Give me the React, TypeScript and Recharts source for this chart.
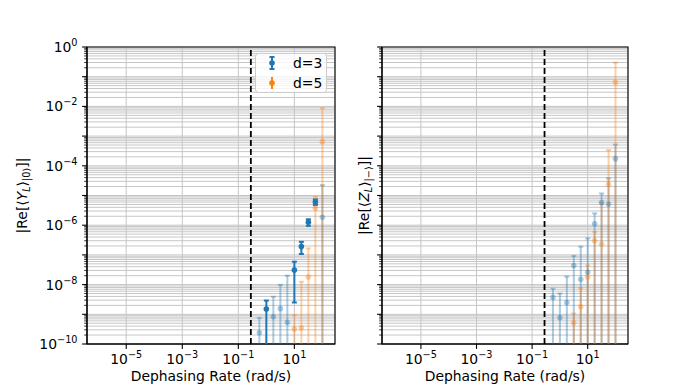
import React from 'react';
import {
  ComposedChart,
  Scatter,
  XAxis,
  YAxis,
  CartesianGrid,
  ErrorBar,
  ReferenceLine,
  ReferenceArea,
} from 'recharts';

const FONT = '"DejaVu Sans", sans-serif';
const BLUE = '#1f77b4';
const ORANGE = '#ff7f0e';

// Dephasing rates (rad/s)
const rates = [0.562, 1, 1.778, 3.162, 5.623, 10, 17.78, 31.62, 56.23, 100];

// Tick labels
const xTickValues = [1e-5, 1e-3, 1e-1, 1e1];
const yDecades = [0, -1, -2, -3, -4, -5, -6, -7, -8, -9, -10];
const yMinorMultipliers = [2, 3, 4, 5, 6, 7, 8, 9];
const yLabelledDecades = [0, -2, -4, -6, -8, -10];
const thresholdRate = [0.28];

// Left panel: |Re[<Y_L>_|0>]|
const yD3Mean = [2.4e-10, 1.5e-9, 8.3e-10, 1.55e-9, 5.4e-10, 3.1e-8, 1.9e-7, 1.26e-6, 6.0e-6, 1.86e-6];
const yD3Upper = [7.6e-10, 2.9e-9, 3.9e-9, 9.8e-9, 2.0e-8, 5.9e-8, 2.75e-7, 1.58e-6, 7.4e-6, 2.24e-5];
const yD3Lower = [0, 0, 0, 0, 0, 2.5e-9, 1.07e-7, 9.5e-7, 4.8e-6, 0];
const yD3Significant = [false, true, false, false, false, true, true, true, true, false];

const yD5Mean = [null, null, null, null, null, 3.2e-10, 3.5e-10, 1.8e-8, 3.7e-6, 6.5e-4];
const yD5Upper = [null, null, null, null, null, 9.5e-10, 1.25e-8, 1.66e-7, 9.1e-6, 8.7e-3];
const yD5Lower = [0, 0, 0, 0, 0, 0, 0, 0, 0, 0];

// Right panel: |Re[<Z_L>_|->]|
const zD3Mean = [3.7e-9, 7.6e-10, 2.5e-9, 4.4e-8, 1.5e-8, 2.6e-8, 1.12e-6, 5.8e-6, 5.2e-6, 1.74e-4];
const zD3Upper = [7.2e-9, 5.0e-9, 1.86e-8, 9.3e-8, 1.9e-7, 3.6e-7, 2.5e-6, 1.17e-5, 3.8e-5, 5.2e-4];
const zD3Lower = [0, 0, 0, 0, 0, 0, 0, 0, 0, 0];

const zD5Mean = [null, null, null, 5.2e-10, 1.8e-9, 1.8e-8, 3.0e-7, 2.3e-7, 2.4e-5, 6.5e-2];
const zD5Upper = [null, null, null, 1.07e-9, 7.6e-9, 4.4e-8, 6.0e-7, 5.5e-6, 3.4e-4, 0.3];
const zD5Lower = [0, 0, 0, 0, 0, 0, 0, 0, 0, 0];

const XMIN = Math.pow(10, -6.4);
const XMAX = Math.pow(10, 2.45);
const YMIN = 1e-10;
const YMAX = 1;
const FLOOR = 1e-14;

const yTickValues: number[] = [];
yDecades.forEach((k) => {
  yTickValues.push(Math.pow(10, k));
  if (k < 0) yMinorMultipliers.forEach((m) => yTickValues.push(m * Math.pow(10, k)));
});

type Pt = { x: number; y: number; err: [number, number] };

function buildPoints(
  mean: (number | null)[],
  upper: (number | null)[],
  lower: number[],
  pick?: boolean[],
  want?: boolean
): Pt[] {
  const out: Pt[] = [];
  mean.forEach((m, i) => {
    if (m == null) return;
    if (pick && pick[i] !== want) return;
    const lo = lower[i] > 0 ? lower[i] : FLOOR;
    const hi = upper[i] as number;
    out.push({ x: rates[i], y: m, err: [m - lo, hi - m] });
  });
  return out;
}

type Series = { key: string; data: Pt[]; color: string; opacity: number };

const leftSeries: Series[] = [
  { key: 'd3s', data: buildPoints(yD3Mean, yD3Upper, yD3Lower, yD3Significant, true), color: BLUE, opacity: 1 },
  { key: 'd3f', data: buildPoints(yD3Mean, yD3Upper, yD3Lower, yD3Significant, false), color: BLUE, opacity: 0.38 },
  { key: 'd5f', data: buildPoints(yD5Mean, yD5Upper, yD5Lower), color: ORANGE, opacity: 0.38 },
];

const rightSeries: Series[] = [
  { key: 'd3f', data: buildPoints(zD3Mean, zD3Upper, zD3Lower), color: BLUE, opacity: 0.38 },
  { key: 'd5f', data: buildPoints(zD5Mean, zD5Upper, zD5Lower), color: ORANGE, opacity: 0.38 },
];

function supText(exp: number) {
  return exp < 0 ? '\u2212' + Math.abs(exp) : String(exp);
}

function XTick(props: any) {
  const { x, y, payload } = props;
  const exp = Math.round(Math.log10(payload.value));
  return (
    <g>
      <line x1={x} x2={x} y1={y} y2={y + 4.9} stroke="#000" strokeWidth={1.1} />
      <text x={x} y={y + 19.5} textAnchor="middle" fontFamily={FONT} fontSize={13.9} fill="#000">
        10
        <tspan fontSize={9.7} dy={-6}>
          {supText(exp)}
        </tspan>
      </text>
    </g>
  );
}

function YTick(props: any) {
  const { x, y, payload, showLabel } = props;
  const e = Math.log10(payload.value);
  const exp = Math.round(e);
  const major = Math.abs(e - exp) < 1e-6;
  const len = major ? 4.9 : 2.8;
  return (
    <g>
      <line x1={x} x2={x - len} y1={y} y2={y} stroke="#000" strokeWidth={major ? 1.1 : 0.8} />
      {showLabel && major && yLabelledDecades.includes(exp) && (
        <text x={x - 9.5} y={y + 5} textAnchor="end" fontFamily={FONT} fontSize={13.9} fill="#000">
          10
          <tspan fontSize={9.7} dy={-6}>
            {supText(exp)}
          </tspan>
        </text>
      )}
    </g>
  );
}

const makeDot = (color: string, opacity: number) => (p: any) => (
  <circle cx={p.cx} cy={p.cy} r={2.8} fill={color} fillOpacity={opacity} />
);

type PanelProps = {
  width: number;
  yAxisWidth: number;
  marginRight: number;
  series: Series[];
  showYLabels: boolean;
  layer: 'base' | 'series';
};

function Panel({ width, yAxisWidth, marginRight, series, showYLabels, layer }: PanelProps) {
  const base = layer === 'base';
  return (
    <ComposedChart width={width} height={388} margin={{ top: 47, right: marginRight, bottom: 0, left: 0 }}>
      {base && <CartesianGrid stroke="#c6c6c6" strokeWidth={1} />}
      <XAxis
        type="number"
        dataKey="x"
        scale="log"
        domain={[XMIN, XMAX]}
        allowDataOverflow
        ticks={xTickValues}
        interval={0}
        height={44}
        tickSize={0}
        tickMargin={0}
        tickLine={false}
        axisLine={base ? { stroke: '#000', strokeWidth: 1.1 } : false}
        tick={base ? (p: any) => <XTick {...p} /> : false}
      />
      <YAxis
        type="number"
        dataKey="y"
        scale="log"
        domain={[YMIN, YMAX]}
        allowDataOverflow
        ticks={yTickValues}
        interval={0}
        width={yAxisWidth}
        tickSize={0}
        tickMargin={0}
        tickLine={false}
        axisLine={base ? { stroke: '#000', strokeWidth: 1.1 } : false}
        tick={base ? (p: any) => <YTick {...p} showLabel={showYLabels} /> : false}
      />
      {base && <ReferenceLine x={thresholdRate[0]} stroke="#000" strokeWidth={1.8} strokeDasharray="6 3" />}
      {!base &&
        series.map((s) => (
          <Scatter key={s.key} data={s.data} isAnimationActive={false} shape={makeDot(s.color, s.opacity)}>
            <ErrorBar
              dataKey="err"
              direction="y"
              width={2.5}
              stroke={s.color}
              strokeOpacity={s.opacity}
              strokeWidth={2}
              isAnimationActive={false}
            />
          </Scatter>
        ))}
      {base && (
        <ReferenceArea
          x1={XMIN}
          x2={XMAX}
          y1={YMIN}
          y2={YMAX}
          fill="none"
          fillOpacity={0}
          stroke="#000"
          strokeWidth={1.1}
          ifOverflow="visible"
        />
      )}
    </ComposedChart>
  );
}

function PanelStack(props: Omit<PanelProps, 'layer'> & { left: number }) {
  const { left, ...rest } = props;
  const clip = `inset(47px ${rest.marginRight}px 44px ${rest.yAxisWidth}px)`;
  return (
    <>
      <div style={{ position: 'absolute', left, top: 0 }}>
        <Panel {...rest} layer="base" />
      </div>
      <div style={{ position: 'absolute', left, top: 0, clipPath: clip }}>
        <Panel {...rest} layer="series" />
      </div>
    </>
  );
}

export default function App() {
  return (
    <div style={{ position: 'absolute', left: 0, top: 0, width: 698, height: 388, background: '#fff' }}>
      <PanelStack left={0} width={349} yAxisWidth={87} marginRight={14} series={leftSeries} showYLabels={true} />
      <PanelStack left={349} width={349} yAxisWidth={33} marginRight={70} series={rightSeries} showYLabels={false} />
      <svg
        width={698}
        height={388}
        style={{ position: 'absolute', left: 0, top: 0, pointerEvents: 'none' }}
        fontFamily={FONT}
      >
        {/* Y labels */}
        <text transform="rotate(-90 27 195.5)" x={27} y={195.5} textAnchor="middle" fontSize={13.9} fill="#000">
          |Re[⟨<tspan fontStyle="italic">Y</tspan>
          <tspan fontSize={9.7} dy={3} fontStyle="italic">L</tspan>
          <tspan dy={-3}>⟩</tspan>
          <tspan fontSize={9.7} dy={3}>|0⟩</tspan>
          <tspan dy={-3}>]|</tspan>
        </text>
        <text transform="rotate(-90 369 195.5)" x={369} y={195.5} textAnchor="middle" fontSize={13.9} fill="#000">
          |Re[⟨<tspan fontStyle="italic">Z</tspan>
          <tspan fontSize={9.7} dy={3} fontStyle="italic">L</tspan>
          <tspan dy={-3}>⟩</tspan>
          <tspan fontSize={9.7} dy={3}>|−⟩</tspan>
          <tspan dy={-3}>]|</tspan>
        </text>
        {/* X labels */}
        <text x={211} y={381} textAnchor="middle" fontSize={13.9} fill="#000">
          Dephasing Rate (rad/s)
        </text>
        <text x={505} y={381} textAnchor="middle" fontSize={13.9} fill="#000">
          Dephasing Rate (rad/s)
        </text>
        {/* Legend */}
        <rect x={255.5} y={53.5} width={71} height={39} rx={3} fill="#fff" fillOpacity={0.8} stroke="#cccccc" strokeWidth={1} />
        <line x1={272} x2={272} y1={57} y2={69} stroke={BLUE} strokeWidth={2} />
        <line x1={269.5} x2={274.5} y1={57} y2={57} stroke={BLUE} strokeWidth={2} />
        <line x1={269.5} x2={274.5} y1={69} y2={69} stroke={BLUE} strokeWidth={2} />
        <circle cx={272} cy={63} r={2.8} fill={BLUE} />
        <text x={293} y={68} fontSize={13.9} fill="#000">
          d=3
        </text>
        <line x1={272} x2={272} y1={77} y2={89} stroke={ORANGE} strokeWidth={2} />
        <circle cx={272} cy={83} r={2.8} fill={ORANGE} />
        <text x={293} y={88} fontSize={13.9} fill="#000">
          d=5
        </text>
      </svg>
    </div>
  );
}
